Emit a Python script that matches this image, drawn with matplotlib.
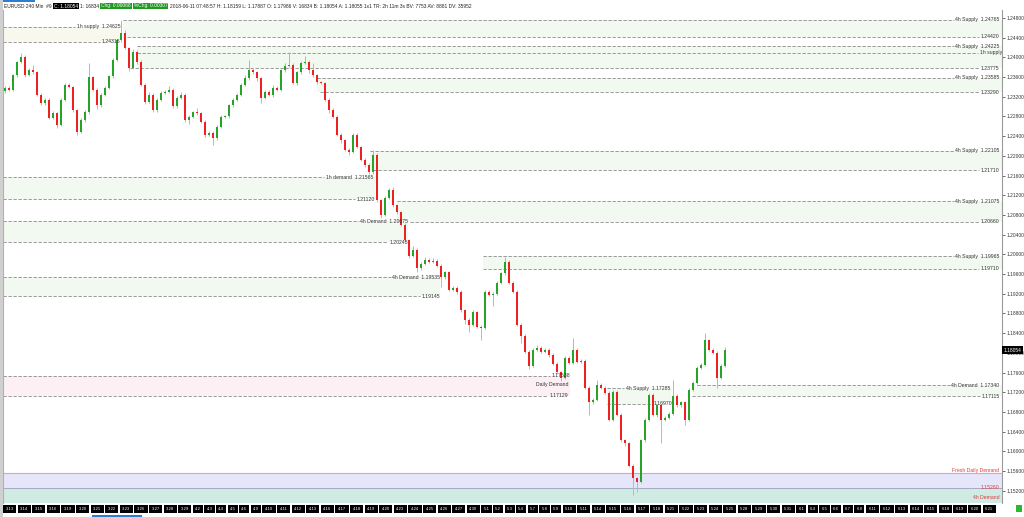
import matplotlib
matplotlib.use("Agg")
import matplotlib.pyplot as plt
from matplotlib.patches import Rectangle
from matplotlib.ticker import MultipleLocator, FormatStrFormatter
import numpy as np

plt.rcParams['font.family'] = ['Liberation Sans', 'DejaVu Sans']

# ---- EURUSD 240 min candles (closes) ----
first_open = 1.2332
closes = [
    1.2338, 1.2334, 1.2364, 1.2391, 1.2401, 1.2364, 1.2374, 1.2370, 1.2324, 1.2307,
    1.2314, 1.2277, 1.2287, 1.2263, 1.2314, 1.2344, 1.2340, 1.2293, 1.2249, 1.2273,
    1.2289, 1.2360, 1.2334, 1.2303, 1.2324, 1.2338, 1.2362, 1.2395, 1.2435, 1.2450,
    1.2419, 1.2379, 1.2411, 1.2391, 1.2344, 1.2310, 1.2324, 1.2293, 1.2314, 1.2328,
    1.2330, 1.2334, 1.2301, 1.2318, 1.2324, 1.2273, 1.2279, 1.2289, 1.2287, 1.2269,
    1.2243, 1.2247, 1.2236, 1.2259, 1.2279, 1.2281, 1.2303, 1.2314, 1.2324, 1.2344,
    1.2358, 1.2374, 1.2370, 1.2358, 1.2318, 1.2330, 1.2324, 1.2338, 1.2334, 1.2374,
    1.2383, 1.2385, 1.2348, 1.2370, 1.2389, 1.2391, 1.2374, 1.2364, 1.2350, 1.2348,
    1.2314, 1.2293, 1.2279, 1.2243, 1.2232, 1.2212, 1.2208, 1.2243, 1.2218, 1.2192,
    1.2182, 1.2167, 1.2202, 1.2110, 1.2080, 1.2115, 1.2131, 1.2100, 1.2086, 1.2060,
    1.2029, 1.1997, 1.2009, 1.1972, 1.1981, 1.1989, 1.1985, 1.1987, 1.1977, 1.1954,
    1.1964, 1.1928, 1.1932, 1.1924, 1.1887, 1.1867, 1.1857, 1.1883, 1.1853, 1.1851,
    1.1924, 1.1918, 1.1920, 1.1942, 1.1962, 1.1985, 1.1942, 1.1924, 1.1857, 1.1835,
    1.1802, 1.1774, 1.1806, 1.1810, 1.1802, 1.1806, 1.1796, 1.1778, 1.1761, 1.1749,
    1.1790, 1.1780, 1.1806, 1.1782, 1.1784, 1.1729, 1.1700, 1.1705, 1.1735, 1.1729,
    1.1719, 1.1664, 1.1721, 1.1674, 1.1623, 1.1617, 1.1571, 1.1546, 1.1538, 1.1623,
    1.1664, 1.1715, 1.1674, 1.1694, 1.1664, 1.1668, 1.1676, 1.1713, 1.1694, 1.1700,
    1.1664, 1.1725, 1.1739, 1.1770, 1.1776, 1.1826, 1.1806, 1.1800, 1.1749, 1.1774,
    1.18054,
]
# wick lengths in pips above / below the body
wick_up = [
    3, 3, 3, 2, 8, 3, 4, 10, 2, 3, 4, 3, 4, 2, 3, 4, 3, 2, 3, 3,
    4, 28, 3, 3, 3, 3, 3, 4, 3, 26, 5, 3, 6, 3, 3, 3, 5, 3, 3, 4,
    3, 8, 3, 4, 6, 3, 3, 3, 8, 3, 3, 3, 3, 3, 4, 3, 3, 3, 4, 3,
    6, 20, 4, 3, 3, 4, 3, 5, 3, 3, 5, 26, 3, 3, 4, 12, 3, 14, 3, 3,
    3, 3, 4, 3, 3, 3, 3, 3, 4, 3, 3, 3, 10, 3, 3, 3, 3, 6, 3, 3,
    3, 3, 8, 3, 3, 6, 3, 6, 3, 3, 3, 3, 4, 3, 3, 3, 3, 4, 3, 3,
    3, 3, 3, 3, 3, 10, 3, 3, 3, 3, 3, 3, 3, 6, 3, 3, 3, 3, 3, 3,
    4, 3, 24, 3, 3, 3, 3, 3, 10, 3, 3, 3, 4, 3, 3, 3, 3, 3, 3, 3,
    3, 4, 3, 3, 3, 3, 3, 32, 3, 3, 3, 3, 3, 3, 4, 14, 3, 3, 3, 3,
    6,
]
wick_dn = [
    4, 3, 2, 3, 2, 3, 2, 3, 3, 4, 3, 3, 3, 6, 2, 3, 2, 3, 6, 3,
    5, 3, 3, 8, 3, 2, 3, 3, 3, 3, 3, 6, 3, 5, 3, 4, 3, 4, 3, 3,
    3, 3, 3, 3, 3, 4, 8, 3, 3, 3, 4, 3, 14, 3, 3, 3, 5, 3, 3, 3,
    3, 3, 4, 6, 10, 3, 3, 4, 3, 3, 3, 3, 3, 4, 3, 3, 5, 4, 4, 3,
    3, 6, 3, 3, 5, 3, 6, 3, 3, 3, 5, 3, 3, 3, 6, 3, 3, 3, 3, 3,
    3, 4, 3, 8, 3, 3, 3, 3, 3, 20, 3, 3, 3, 5, 3, 8, 14, 3, 3, 24,
    3, 3, 22, 3, 3, 3, 3, 3, 3, 14, 3, 6, 3, 3, 3, 3, 4, 3, 4, 6,
    3, 3, 3, 3, 3, 3, 26, 3, 3, 3, 3, 3, 3, 3, 3, 6, 3, 34, 20, 3,
    3, 3, 3, 4, 46, 3, 3, 3, 3, 3, 10, 3, 3, 3, 3, 3, 3, 3, 20, 3,
    3,
]

# zones drawn from a candle out to the right edge
right_levels = [1.24765, 1.24420, 1.24225, 1.24090, 1.23775, 1.23585, 1.23290,
                1.22105, 1.21710, 1.21075, 1.20660, 1.19965, 1.19710, 1.17340, 1.17115]
right_start = [29.5, 30.5, 33, 33, 31.25, 78, 78.75,
               91.25, 92, 98, 101.25, 119.5, 119.5, 173, 171.75]
right_labels = ["4h Supply  1.24765", "1.24420", "4h Supply  1.24225", "1h supply", "1.23775",
                "4h Supply  1.23585", "1.23290", "4h Supply  1.22105", "1.21710",
                "4h Supply  1.21075", "1.20660", "4h Supply  1.19965", "1.19710",
                "4h Demand  1.17340", "1.17115"]
# zones drawn from the left edge up to a candle
left_levels = [1.24625, 1.24315, 1.21565, 1.21120, 1.20675, 1.20245,
               1.19535, 1.19145, 1.17538, 1.17129]
left_end = [28.8, 28.8, 92, 92.5, 100.75, 100.75, 108.75, 108.75, 141.25, 140.75]
left_labels = ["1h supply  1.24625", "1.24315", "1h demand  1.21565", "1.21120",
               "4h Demand  1.20675", "1.20245", "4h Demand  1.19535", "1.19145",
               "1.17538", "1.17129"]
# zone lines bounded on both sides
mid_levels = [1.17285, 1.16970]
mid_start = [150.5, 150.5]
mid_end = [166.25, 166.75]
mid_labels = ["4h Supply  1.17285", "1.16970"]

# shaded bands: (x0, x1, low, high, colour)
XL, XR = -0.5, 249.25
bands = [
    (29.5, XR, 1.24420, 1.24765, '#f2f9f0'),
    (33, XR, 1.23775, 1.24225, '#f2f9f0'),
    (78, XR, 1.23290, 1.23585, '#f2f9f0'),
    (91.25, XR, 1.21710, 1.22105, '#f2f9f0'),
    (98, XR, 1.20660, 1.21075, '#f2f9f0'),
    (119.5, XR, 1.19710, 1.19965, '#f2f9f0'),
    (172, XR, 1.17115, 1.17340, '#f2f9f0'),
    (XL, 28.8, 1.24315, 1.24625, '#f8f8ef'),
    (XL, 92.5, 1.21120, 1.21565, '#f2f9f0'),
    (XL, 100.75, 1.20245, 1.20675, '#f2f9f0'),
    (XL, 108.75, 1.19145, 1.19535, '#f2f9f0'),
    (XL, 141.25, 1.17129, 1.17538, '#fcf0f5'),
    (150.5, 166.5, 1.16970, 1.17285, '#f2f9f0'),
    (XL, XR, 1.15260, 1.15561, '#e6e6fa'),
    (XL, XR, 1.14800, 1.15260, '#d0ebe4'),
]

date_labels = ["3-13", "3-14", "3-15", "3-16", "3-19", "3-20", "3-21", "3-22", "3-23",
               "3-26", "3-27", "3-28", "3-29", "4-2", "4-3", "4-4", "4-5", "4-6", "4-9",
               "4-10", "4-11", "4-12", "4-13", "4-16", "4-17", "4-18", "4-19", "4-20",
               "4-23", "4-24", "4-25", "4-26", "4-27", "4-30", "5-1", "5-2", "5-3", "5-4",
               "5-7", "5-8", "5-9", "5-10", "5-11", "5-14", "5-15", "5-16", "5-17", "5-18",
               "5-21", "5-22", "5-23", "5-24", "5-25", "5-28", "5-29", "5-30", "5-31",
               "6-1", "6-4", "6-5", "6-6", "6-7", "6-8", "6-11", "6-12", "6-13", "6-14",
               "6-15", "6-18", "6-19", "6-20", "6-21"]

header_parts = [
    ("EURUSD 240 Min  #9", None),
    ("C: 1.18054", 'black'),
    ("1: 16834", None),
    ("Chg: 0.00068", '#1e9a1e'),
    ("%Chg: 0.00307", '#1e9a1e'),
    ("2018-06-11 07:48:57 H: 1.18159 L: 1.17887 O: 1.17986 V: 16834 B: 1.18054 "
     "A: 1.18055 1x1 TR: 2h 11m 3s BV: 7753 AV: 8881 DV: 35952", None),
]

W, H = 1024, 517
fig = plt.figure(figsize=(W / 100, H / 100), dpi=100)
ax = fig.add_axes([3 / W, 14 / H, 999 / W, 493 / H])
ax.set_xlim(XL, XR)
ax.set_ylim(1.14952, 1.24962)

for x0, x1, b0, b1, col in bands:
    ax.add_patch(Rectangle((x0, b0), x1 - x0, b1 - b0, color=col, lw=0, zorder=0))

# candles
n = len(closes)
x = np.arange(n)
c = np.array(closes)
o = np.r_[first_open, c[:-1]]
hi = np.maximum(o, c) + np.array(wick_up) * 1e-4
lo = np.minimum(o, c) - np.array(wick_dn) * 1e-4
up = c >= o
body_col = np.where(up, '#27a327', '#ee2020')
wick_col = np.where(up, '#8fd08f', '#f4a0a0')
ax.vlines(x, lo, hi, colors=wick_col, lw=0.7, zorder=3)
h = np.maximum(np.abs(c - o), 0.00012)
ax.bar(x, h, bottom=np.minimum(o, c), width=0.68, color=body_col, lw=0, zorder=4)

fs = 3.7
lc = '#8a8a8a'
ls = (0, (4, 2))
fig.canvas.draw()
r = fig.canvas.get_renderer()
inv = ax.transData.inverted()


def left_of(t):
    bb = t.get_window_extent(r)
    return inv.transform((bb.x0 - 1.5, 0))[0]


for lev, st, lab in zip(right_levels, right_start, right_labels):
    xe = 249.2 if lab == "1h supply" else 248.6
    t = ax.text(xe, lev, lab, ha='right', va='center', fontsize=fs, color='#333333', zorder=6)
    ax.plot([st, left_of(t)], [lev, lev], color=lc, lw=0.6, ls=ls, zorder=2)

for lev, en, lab in zip(left_levels, left_end, left_labels):
    t = ax.text(en, lev, lab, ha='right', va='center', fontsize=fs, color='#333333', zorder=6)
    ax.plot([XL, left_of(t)], [lev, lev], color=lc, lw=0.6, ls=ls, zorder=2)

for lev, st, en, lab in zip(mid_levels, mid_start, mid_end, mid_labels):
    t = ax.text(en, lev, lab, ha='right', va='center', fontsize=fs, color='#333333', zorder=6)
    ax.plot([st, left_of(t)], [lev, lev], color=lc, lw=0.6, ls=ls, zorder=2)

ax.text(132.75, 1.1735, "Daily Demand", ha='left', va='center', fontsize=fs, color='#333333', zorder=6)

# bottom demand zones
ax.axhline(1.15561, color='#eba0a8', lw=0.8, zorder=2)
ax.axhline(1.15260, color='#a0a0c0', lw=0.6, zorder=2)
ax.text(248.6, 1.15561, "Fresh Daily Demand", ha='right', va='bottom', fontsize=fs, color='#e03c3c', zorder=6)
ax.text(248.6, 1.15260, "1.15260", ha='right', va='center', fontsize=fs, color='#e03c3c', zorder=6)
ax.text(248.6, 1.1506, "4h Demand", ha='right', va='center', fontsize=fs, color='#e03c3c', zorder=6)

# axes styling
for s in ['top', 'bottom']:
    ax.spines[s].set_visible(False)
ax.spines['left'].set_color('#b0b0b0')
ax.spines['right'].set_color('#9a9a9a')
ax.spines['right'].set_linewidth(0.8)
ax.set_xticks([])
ax.yaxis.tick_right()
ax.yaxis.set_major_locator(MultipleLocator(0.004))
ax.yaxis.set_major_formatter(FormatStrFormatter('%.5f'))
ax.tick_params(axis='y', labelsize=3.5, length=2, width=0.5, pad=1.5,
               colors='#333333', labelcolor='#333333')

# current price box
ax.text(1.0015, 1.18054, "1.18054", transform=ax.get_yaxis_transform(), ha='left', va='center',
        fontsize=3.5, color='white', zorder=10,
        bbox=dict(boxstyle='square,pad=0.35', fc='black', ec='none'))

# date strip
xc = 3.0
for lab in date_labels:
    w = 3.0 * len(lab) + 1.2
    if xc + w > 1002:
        break
    fig.patches.append(Rectangle((xc / W, 4 / H), w / W, 8.5 / H, transform=fig.transFigure,
                                 color='black', lw=0))
    fig.text((xc + w / 2) / W, 8.2 / H, lab, color='white', fontsize=3.0, ha='center', va='center')
    xc += w + 1.4

# decorations
fig.patches.append(Rectangle((0, 515 / H), 35 / W, 2 / H, transform=fig.transFigure,
                             color='#2a7fd4', lw=0))
fig.patches.append(Rectangle((92 / W, 0), 50 / W, 2 / H, transform=fig.transFigure,
                             color='#2a7fd4', lw=0))
fig.patches.append(Rectangle((0, 0), 2.5 / W, 1, transform=fig.transFigure,
                             color='#d0d0d0', lw=0))
fig.patches.append(Rectangle((1016 / W, 5 / H), 6 / W, 7 / H, transform=fig.transFigure,
                             color='#2db82d', lw=0))

# header line, laid out left to right
hx = 4.0
for txt, bg in header_parts:
    kw = {}
    col = '#222222'
    if bg is not None:
        kw['bbox'] = dict(boxstyle='square,pad=0.2', fc=bg, ec='none')
        col = 'white'
    t = fig.text(hx / W, (H - 6) / H, txt, fontsize=3.5, color=col, ha='left', va='center', **kw)
    bb = t.get_window_extent(r)
    hx += bb.width + (2.5 if bg is not None else 2.0)

fig.savefig("out.png", dpi=100)
